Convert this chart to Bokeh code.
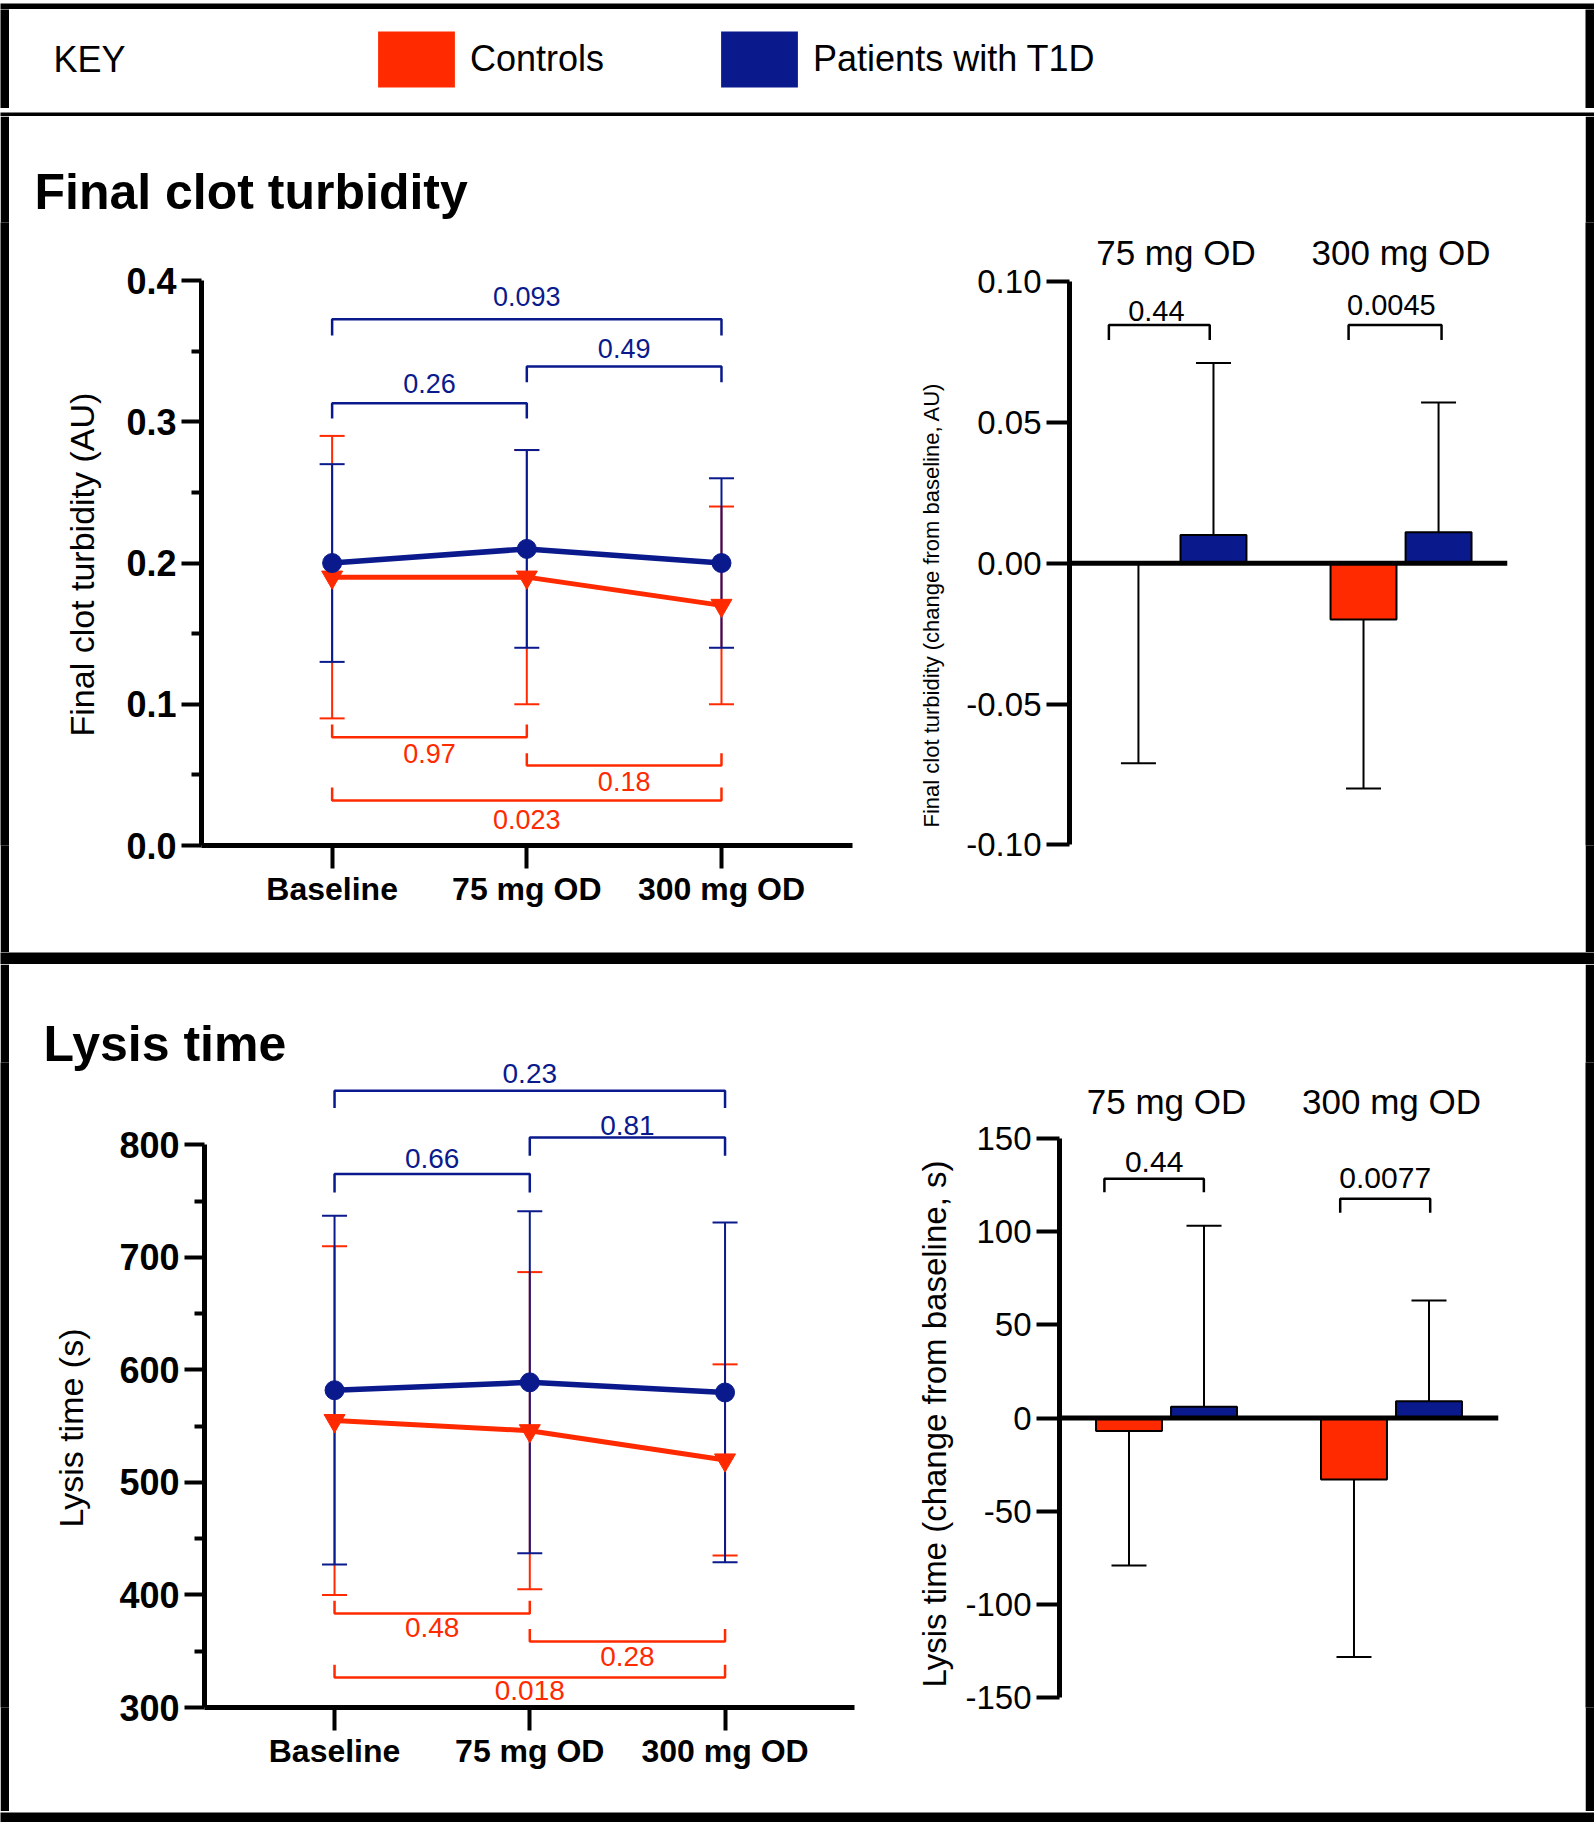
from bokeh.plotting import figure
from bokeh.layouts import column, row
from bokeh.models import (Range1d, FixedTicker, NumeralTickFormatter, Whisker, TeeHead,
                          ColumnDataSource, Span, Label, Legend, LegendItem, Title)
from bokeh.embed import file_html
from bokeh.resources import INLINE
from bokeh.core.properties import value
from bokeh.core.validation import silence
from bokeh.core.validation.warnings import MISSING_RENDERERS

silence(MISSING_RENDERERS, True)

# ---------------- data ----------------
timepoints = ["Baseline", "75 mg OD", "300 mg OD"]
doses = ["75 mg OD", "300 mg OD"]
groups = ["Controls", "Patients with T1D"]
comparisons = [(0, 1), (1, 2), (0, 2)]

turb_ctrl_mean = [0.19, 0.19, 0.17]
turb_ctrl_sd = [0.10, 0.09, 0.07]
turb_t1d_mean = [0.20, 0.21, 0.20]
turb_t1d_sd = [0.07, 0.07, 0.06]
turb_ctrl_p = ["0.97", "0.18", "0.023"]
turb_t1d_p = ["0.26", "0.49", "0.093"]

turb_chg_ctrl_mean = [0.000, -0.020]
turb_chg_ctrl_sd = [0.071, 0.060]
turb_chg_t1d_mean = [0.010, 0.011]
turb_chg_t1d_sd = [0.061, 0.046]
turb_chg_p = ["0.44", "0.0045"]

lysis_ctrl_mean = [555, 546, 520]
lysis_ctrl_sd = [155, 141, 85]
lysis_t1d_mean = [582, 589, 580]
lysis_t1d_sd = [155, 152, 151]
lysis_ctrl_p = ["0.48", "0.28", "0.018"]
lysis_t1d_p = ["0.66", "0.81", "0.23"]

lysis_chg_ctrl_mean = [-7, -33]
lysis_chg_ctrl_sd = [72, 95]
lysis_chg_t1d_mean = [6, 9]
lysis_chg_t1d_sd = [97, 54]
lysis_chg_p = ["0.44", "0.0077"]

# ---------------- style ----------------
RED = "#FF2A00"
BLUE = "#0A1A8C"
FONT = "Liberation Sans"


def sep(w, h):
    f = figure(width=w, height=h, x_range=Range1d(0, 1), y_range=Range1d(0, 1),
               output_backend="svg", toolbar_location=None,
               x_axis_location=None, y_axis_location=None, min_border=0)
    f.background_fill_color = "black"
    f.border_fill_color = "black"
    f.outline_line_color = None
    f.grid.visible = False
    return f


def ylabel(p, text, size, offset, standoff):
    t = Title(text=text, align="left", offset=offset, text_font=FONT,
              text_font_size=size, text_font_style="normal", text_color="black")
    if "standoff" in t.properties():
        t.standoff = standoff
    p.add_layout(t, "left")


def line_panel(width, height, xr, yr, mb, ybounds, major, minor, fmt, title, title_offset,
               title_standoff, ctrl_mean, ctrl_sd, t1d_mean, t1d_sd, ctrl_p, t1d_p,
               t1d_br, ctrl_br, ylab, ylab_offset, ylab_standoff, ptext_size):
    p = figure(width=width, height=height, x_range=Range1d(*xr), y_range=Range1d(*yr),
               output_backend="svg", toolbar_location=None,
               min_border_left=mb[0], min_border_right=mb[1],
               min_border_top=mb[2], min_border_bottom=mb[3])
    p.grid.visible = False
    p.outline_line_color = None
    p.title.text = title
    p.title.text_font = FONT
    p.title.text_font_size = "50px"
    p.title.text_font_style = "bold"
    p.title.text_color = "black"
    p.title.align = "left"
    p.title.offset = title_offset
    if "standoff" in p.title.properties():
        p.title.standoff = title_standoff
    ya = p.yaxis[0]
    ya.ticker = FixedTicker(ticks=major, minor_ticks=minor)
    ya.formatter = NumeralTickFormatter(format=fmt)
    ya.bounds = ybounds
    ya.axis_line_width = 5
    ya.major_tick_line_width = 4
    ya.minor_tick_line_width = 4
    ya.major_tick_out = 20
    ya.major_tick_in = 0
    ya.minor_tick_out = 10
    ya.minor_tick_in = 0
    ya.major_label_text_font = FONT
    ya.major_label_text_font_size = "36px"
    ya.major_label_text_font_style = "bold"
    ya.major_label_text_color = "black"
    ya.major_label_standoff = 5
    xa = p.xaxis[0]
    xa.ticker = FixedTicker(ticks=list(range(len(timepoints))), minor_ticks=[])
    xa.major_label_overrides = {i: t for i, t in enumerate(timepoints)}
    xa.axis_line_width = 5
    xa.major_tick_line_width = 4
    xa.major_tick_out = 23
    xa.major_tick_in = 0
    xa.minor_tick_line_color = None
    xa.major_label_text_font = FONT
    xa.major_label_text_font_size = "32px"
    xa.major_label_text_font_style = "bold"
    xa.major_label_text_color = "black"
    xa.major_label_standoff = 2

    xs = list(range(len(timepoints)))
    for mean, sd, col in ((ctrl_mean, ctrl_sd, RED), (t1d_mean, t1d_sd, BLUE)):
        src = ColumnDataSource(dict(x=xs, upper=[m + s for m, s in zip(mean, sd)],
                                    lower=[m - s for m, s in zip(mean, sd)]))
        p.add_layout(Whisker(source=src, base="x", upper="upper", lower="lower",
                             line_color=col, line_width=2,
                             upper_head=TeeHead(size=25, line_color=col, line_width=2),
                             lower_head=TeeHead(size=25, line_color=col, line_width=2)))
    p.line(xs, ctrl_mean, line_color=RED, line_width=5)
    p.scatter(xs, ctrl_mean, marker="inverted_triangle", size=21, color=RED)
    p.line(xs, t1d_mean, line_color=BLUE, line_width=5.5)
    p.scatter(xs, t1d_mean, marker="circle", size=19, color=BLUE)

    for br, labels, col in ((t1d_br, t1d_p, BLUE), (ctrl_br, ctrl_p, RED)):
        bx, by, tx, ty = [], [], [], []
        for (i, j), (h, leg, tyv) in zip(comparisons, br):
            bx.append([i, i, j, j])
            by.append([leg, h, h, leg])
            tx.append((i + j) / 2)
            ty.append(tyv)
        p.multi_line(bx, by, line_color=col, line_width=2.5)
        p.text(tx, ty, text=labels, text_align="center", text_baseline="middle",
               text_color=col, text_font=value(FONT), text_font_size=value(ptext_size))
    ylabel(p, ylab, "34px", ylab_offset, ylab_standoff)
    return p


def bar_panel(width, height, xr, yr, mb, ybounds, ticks, fmt, ylab, ylab_size,
              ylab_offset, ylab_standoff, dose_y, ctrl_mean, ctrl_sd, t1d_mean, t1d_sd,
              pvals, br, ptext_size):
    p = figure(width=width, height=height, x_range=Range1d(*xr), y_range=Range1d(*yr),
               output_backend="svg", toolbar_location=None, x_axis_location=None,
               min_border_left=mb[0], min_border_right=mb[1],
               min_border_top=mb[2], min_border_bottom=mb[3])
    p.grid.visible = False
    p.outline_line_color = None
    ya = p.yaxis[0]
    ya.ticker = FixedTicker(ticks=ticks, minor_ticks=[])
    ya.formatter = NumeralTickFormatter(format=fmt)
    ya.bounds = ybounds
    ya.axis_line_width = 5
    ya.major_tick_line_width = 4
    ya.major_tick_out = 23
    ya.major_tick_in = 0
    ya.minor_tick_line_color = None
    ya.major_label_text_font = FONT
    ya.major_label_text_font_size = "33px"
    ya.major_label_text_color = "black"
    ya.major_label_standoff = 5

    xg = list(range(len(doses)))
    p.text(xg, [dose_y] * len(doses), text=doses, text_align="center",
           text_baseline="alphabetic", text_color="black",
           text_font=value(FONT), text_font_size=value("35px"))

    off, bw = 0.1667, 0.293
    xc = [i - off for i in xg]
    xt = [i + off for i in xg]
    src_c = ColumnDataSource(dict(x=xc, upper=ctrl_mean,
                                  lower=[m - s for m, s in zip(ctrl_mean, ctrl_sd)]))
    p.add_layout(Whisker(source=src_c, base="x", upper="upper", lower="lower",
                         line_color="black", line_width=2, upper_head=None,
                         lower_head=TeeHead(size=35, line_color="black", line_width=2)))
    src_t = ColumnDataSource(dict(x=xt, lower=t1d_mean,
                                  upper=[m + s for m, s in zip(t1d_mean, t1d_sd)]))
    p.add_layout(Whisker(source=src_t, base="x", upper="upper", lower="lower",
                         line_color="black", line_width=2, lower_head=None,
                         upper_head=TeeHead(size=35, line_color="black", line_width=2)))

    p.vbar(x=xc, top=ctrl_mean, bottom=0, width=bw, fill_color=RED,
           line_color="black", line_width=2)
    p.vbar(x=xt, top=t1d_mean, bottom=0, width=bw, fill_color=BLUE,
           line_color="black", line_width=2)
    p.add_layout(Span(location=0, dimension="width", line_color="black", line_width=5))

    bx, by, tx, ty = [], [], [], []
    for i, (l, r, h, leg, txo, tyv) in enumerate(br):
        bx.append([i + l, i + l, i + r, i + r])
        by.append([leg, h, h, leg])
        tx.append(i + txo)
        ty.append(tyv)
    p.multi_line(bx, by, line_color="black", line_width=2.5)
    p.text(tx, ty, text=pvals, text_align="center", text_baseline="middle",
           text_color="black", text_font=value(FONT), text_font_size=value(ptext_size))
    ylabel(p, ylab, ylab_size, ylab_offset, ylab_standoff)
    return p


# ---------------- key ----------------
key = figure(width=1576, height=99, x_range=Range1d(0, 1), y_range=Range1d(0, 1),
             output_backend="svg", toolbar_location=None,
             x_axis_location=None, y_axis_location=None, min_border=0)
key.grid.visible = False
key.outline_line_color = None
r_ctrl = key.rect(x=[-5], y=[-5], width=0.1, height=0.1, fill_color=RED, line_color=None)
r_t1d = key.rect(x=[-5], y=[-5], width=0.1, height=0.1, fill_color=BLUE, line_color=None)
leg = Legend(items=[LegendItem(label=groups[0], renderers=[r_ctrl]),
                    LegendItem(label=groups[1], renderers=[r_t1d])],
             orientation="horizontal", location=(359, 14), padding=0, margin=0,
             glyph_width=96, glyph_height=70, label_standoff=6, spacing=107,
             label_text_font=FONT, label_text_font_size="36px", label_text_color="black",
             border_line_color=None, background_fill_alpha=0)
key.add_layout(leg)
key.add_layout(Label(x=44, y=49.5, x_units="screen", y_units="screen", text="KEY",
                     text_baseline="middle", text_font=FONT, text_font_size="36px",
                     text_color="black"))

# ---------------- panel 1: final clot turbidity ----------------
p1l = line_panel(
    861, 836, (-0.671, 2.673), (0.0, 0.4411), (192, 18, 106, 107), (0, 0.4),
    [0.0, 0.1, 0.2, 0.3, 0.4], [0.05, 0.15, 0.25, 0.35], "0.0",
    "Final clot turbidity", -167, 6,
    turb_ctrl_mean, turb_ctrl_sd, turb_t1d_mean, turb_t1d_sd, turb_ctrl_p, turb_t1d_p,
    [(0.3131, 0.3023, 0.3271), (0.3391, 0.3280, 0.3519), (0.3726, 0.3611, 0.3887)],
    [(0.0767, 0.0857, 0.0651), (0.0566, 0.0653, 0.0453), (0.0319, 0.0411, 0.0184)],
    "Final clot turbidity (AU)", 109, 46, "27px")

p1r = bar_panel(
    715, 836, (-0.473, 1.473), (-0.1002, 0.1209), (199, 78, 106, 107), (-0.1, 0.1),
    [-0.1, -0.05, 0.0, 0.05, 0.1], "0.00",
    "Final clot turbidity (change from baseline, AU)", "22px", 18, 39, 0.1104,
    turb_chg_ctrl_mean, turb_chg_ctrl_sd, turb_chg_t1d_mean, turb_chg_t1d_sd, turb_chg_p,
    [(-0.298, 0.150, 0.0845, 0.0792, -0.087, 0.0895),
     (-0.233, 0.180, 0.0845, 0.0792, -0.043, 0.0916)], "29px")

# ---------------- panel 2: lysis time ----------------
p2l = line_panel(
    861, 847, (-0.666, 2.663), (300, 873.3), (195, 16, 98, 104), (300, 800),
    [300, 400, 500, 600, 700, 800], [350, 450, 550, 650, 750], "0",
    "Lysis time", -161, -19,
    lysis_ctrl_mean, lysis_ctrl_sd, lysis_t1d_mean, lysis_t1d_sd, lysis_ctrl_p, lysis_t1d_p,
    [(774.1, 757.8, 787.7), (806.7, 790.4, 817.1), (848.2, 832.8, 863.3)],
    [(383.6, 394.8, 371.1), (358.7, 369.7, 345.1), (326.7, 338.0, 314.8)],
    "Lysis time (s)", 180, 54, "28px")

p2r = bar_panel(
    715, 847, (-0.4756, 1.4756), (-155.1, 190.5), (189, 87, 98, 104), (-150, 150),
    [-150, -100, -50, 0, 50, 100, 150], "0",
    "Lysis time (change from baseline, s)", "33px", 20, 20, 169.4,
    lysis_chg_ctrl_mean, lysis_chg_ctrl_sd, lysis_chg_t1d_mean, lysis_chg_t1d_sd, lysis_chg_p,
    [(-0.276, 0.166, 128.2, 121.0, -0.055, 137.1),
     (-0.228, 0.172, 117.5, 110.0, -0.028, 128.6)], "30px")

layout = column(
    sep(1594, 9),
    row(sep(9, 99), key, sep(9, 99)),
    sep(1594, 8),
    row(sep(9, 836), p1l, p1r, sep(9, 836)),
    sep(1594, 12),
    row(sep(9, 847), p2l, p2r, sep(9, 847)),
    sep(1594, 11),
)

open("out.html", "w").write(file_html(layout, INLINE))
